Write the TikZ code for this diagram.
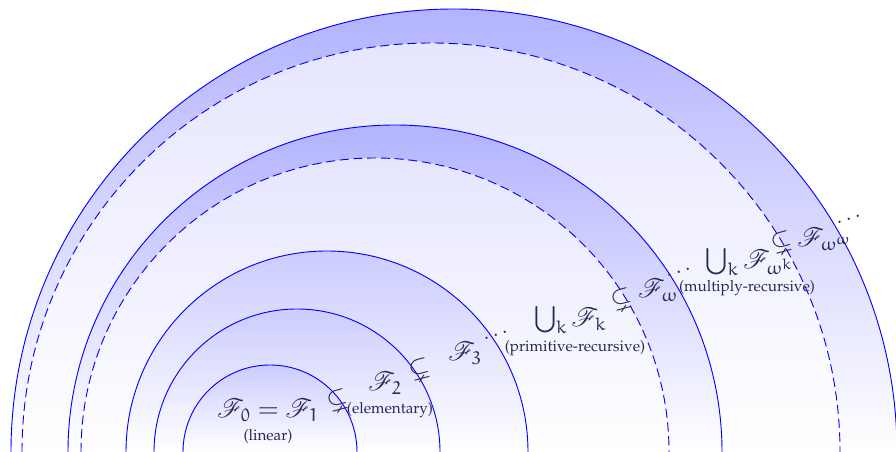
\documentclass[tikz,border=0pt]{standalone}
\usepackage[T1]{fontenc}
\usepackage{palatino}
\usepackage{amssymb}
\IfFileExists{euler.sty}{\usepackage{euler}}{\IfFileExists{mathpazo.sty}{\usepackage{mathpazo}}{}}
\IfFileExists{mathrsfs.sty}{\usepackage{mathrsfs}}{\newcommand{\mathscr}{\mathcal}}
\usepackage{tikz}
\definecolor{ink}{RGB}{40,40,85}
\tikzset{
  arcline/.style={blue, line width=.6pt},
  dasharc/.style={arcline, dash pattern=on 6pt off 3pt},
  lbl/.style={text=ink, font=\LARGE, inner sep=1pt},
  note/.style={text=ink, inner sep=1pt},
  incl/.style={lbl, rotate=15, inner sep=0pt},
  dots/.style={text=ink, font=\Large, rotate=20, inner sep=0pt},
}

\begin{document}
\begin{tikzpicture}[x=0.023cm, y=0.023cm]
  \useasboundingbox (0,0) rectangle (896,452);
  % outer families, shaded band + lighter inside
  \foreach \l/\r/\c in {11/443/30, 22/409/10, 68/327/30, 81/294/10}
    \shade[top color=blue!\c, bottom color=white] (\l,0) arc[start angle=180, end angle=0, radius=\r] -- cycle;
  % the small ones
  \foreach \l/\r in {126/201, 154/143, 183/87}
    \shade[top color=blue!20, bottom color=white] (\l,0) arc[start angle=180, end angle=0, radius=\r] -- cycle;
  % boundaries
  \foreach \l/\r/\s in {11/443/arcline, 22/409/dasharc, 68/327/arcline, 81/294/dasharc, 126/201/arcline, 154/143/arcline, 183/87/arcline}
    \draw[\s] (\l,0) arc[start angle=180, end angle=0, radius=\r];

  \node[lbl] (f01) at (268,42) {$\mathscr{F}_0=\mathscr{F}_1$};
  \node[note] (lin) at (268,15) {(linear)};
  \node[incl] (s1) at (338,52) {$\subsetneq$};
  \node[lbl] (f2) at (385,69) {$\mathscr{F}_2$};
  \node[note] (elem) at (390,42) {(elementary)};
  \node[incl] (s2) at (420,83) {$\subsetneq$};
  \node[lbl] (f3) at (465,99) {$\mathscr{F}_3$};
  \node[dots] (d1) at (496,116) {$\cdots$};
  \node[lbl] (uk) at (570,132) {$\bigcup_k \mathscr{F}_k$};
  \node[note] (prim) at (575,104) {(primitive-recursive)};
  \node[incl] (s3) at (622,153) {$\subsetneq$};
  \node[lbl] (fw) at (658,162) {$\mathscr{F}_\omega$};
  \node[dots] (d2) at (679,179) {$\cdots$};
  \node[lbl] (uwk) at (749,190) {$\bigcup_k \mathscr{F}_{\omega^k}$};
  \node[note] (mult) at (747,164) {(multiply-recursive)};
  \node[incl] (s4) at (782,210) {$\subsetneq$};
  \node[lbl] (fww) at (824,213) {$\mathscr{F}_{\omega^\omega}$};
  \node[dots] (d3) at (849,232) {$\cdots$};
\end{tikzpicture}
\end{document}
